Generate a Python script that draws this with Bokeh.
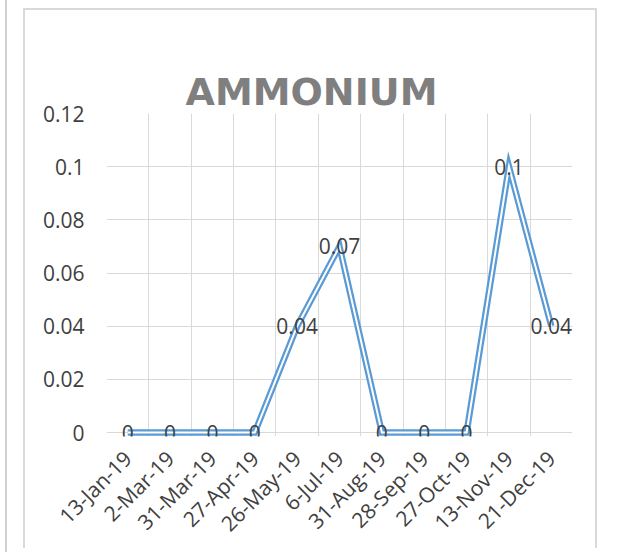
import math
from bokeh.plotting import figure
from bokeh.models import FixedTicker, ColumnDataSource, LabelSet, Grid, Spacer, Title
from bokeh.layouts import row, column
from bokeh.core.properties import value
from bokeh.embed import file_html
from bokeh.resources import INLINE

# ---- data ----
dates = ["13-Jan-19", "2-Mar-19", "31-Mar-19", "27-Apr-19", "26-May-19", "6-Jul-19",
         "31-Aug-19", "28-Sep-19", "27-Oct-19", "13-Nov-19", "21-Dec-19"]
ammonium = [0, 0, 0, 0, 0.04, 0.07, 0, 0, 0, 0.1, 0.04]
point_labels = ["0", "0", "0", "0", "0.04", "0.07", "0", "0", "0", "0.1", "0.04"]
y_ticks = [0, 0.02, 0.04, 0.06, 0.08, 0.1, 0.12]
y_tick_labels = ["0", "0.02", "0.04", "0.06", "0.08", "0.1", "0.12"]
title_text = "AMMONIUM"

xs = list(range(len(dates)))
src = ColumnDataSource(dict(x=xs, y=ammonium, lab=point_labels))

BLUE = "#5B9BD5"
GRID = "#D9D9D9"
TXT = "#404040"
FONT = "Open Sans"
W, H = 574, 540

p = figure(width=W, height=H, output_backend="svg", toolbar_location=None, title=None,
           x_range=(-0.5, len(dates) - 0.5), y_range=(-0.0015, 0.12),
           min_border_left=81, min_border_right=27, min_border_top=103,
           min_border_bottom=114,
           styles={"border-top": "2px solid #D9D9D9",
                   "border-left": "2px solid #D9D9D9",
                   "border-right": "2px solid #D9D9D9"})
p.outline_line_color = None
p.background_fill_color = "white"
p.border_fill_color = "white"

# title first, then an invisible spacer panel between it and the frame
p.add_layout(Title(text=title_text, standoff=0, align="left", offset=79,
                   text_font="DejaVu Sans", text_font_style="bold",
                   text_font_size="38px", text_color="#7F7F7F"), "above")
p.add_layout(Title(text=" ", standoff=36, text_font_size="1px", text_alpha=0), "above")

# grids
p.xgrid.grid_line_color = None
p.ygrid.grid_line_color = GRID
p.ygrid.grid_line_width = 1
p.ygrid.ticker = FixedTicker(ticks=y_ticks)
vgrid = Grid(dimension=0, ticker=FixedTicker(ticks=[i - 0.5 for i in range(len(dates) + 1)]),
             grid_line_color=GRID, grid_line_width=1)
p.add_layout(vgrid)

# axes
xa = p.xaxis[0]
xa.ticker = FixedTicker(ticks=xs)
xa.major_label_overrides = {i: d for i, d in enumerate(dates)}
xa.major_label_orientation = math.pi / 4
xa.axis_line_color = None
xa.major_tick_line_color = None
xa.minor_tick_line_color = None
xa.major_label_text_font = FONT
xa.major_label_text_font_size = "21px"
xa.major_label_text_color = TXT
xa.major_label_standoff = 12

ya = p.yaxis[0]
ya.ticker = FixedTicker(ticks=y_ticks)
ya.major_label_overrides = {t: l for t, l in zip(y_ticks, y_tick_labels)}
ya.axis_line_color = None
ya.major_tick_line_color = None
ya.minor_tick_line_color = None
ya.major_label_text_font = FONT
ya.major_label_text_font_size = "21px"
ya.major_label_text_color = TXT
ya.major_label_standoff = 16

# double line
p.line("x", "y", source=src, line_color=BLUE, line_width=6.5, line_join="miter")
p.line("x", "y", source=src, line_color="white", line_width=2, line_join="miter")

# data labels
labels = LabelSet(x="x", y="y", text="lab", source=src, text_align="center",
                  text_baseline="middle", text_font=value(FONT),
                  text_font_size="21px", text_color=TXT)
p.add_layout(labels)

# page layout: neighbouring chart border on the far left, chart box offset
edge = Spacer(width=18, height=552, styles={"border-left": "2px solid #D0D0D0"})
layout = row(Spacer(width=5, height=10), edge,
             column(Spacer(width=10, height=8), p))

open("out.html", "w").write(file_html(layout, INLINE))
